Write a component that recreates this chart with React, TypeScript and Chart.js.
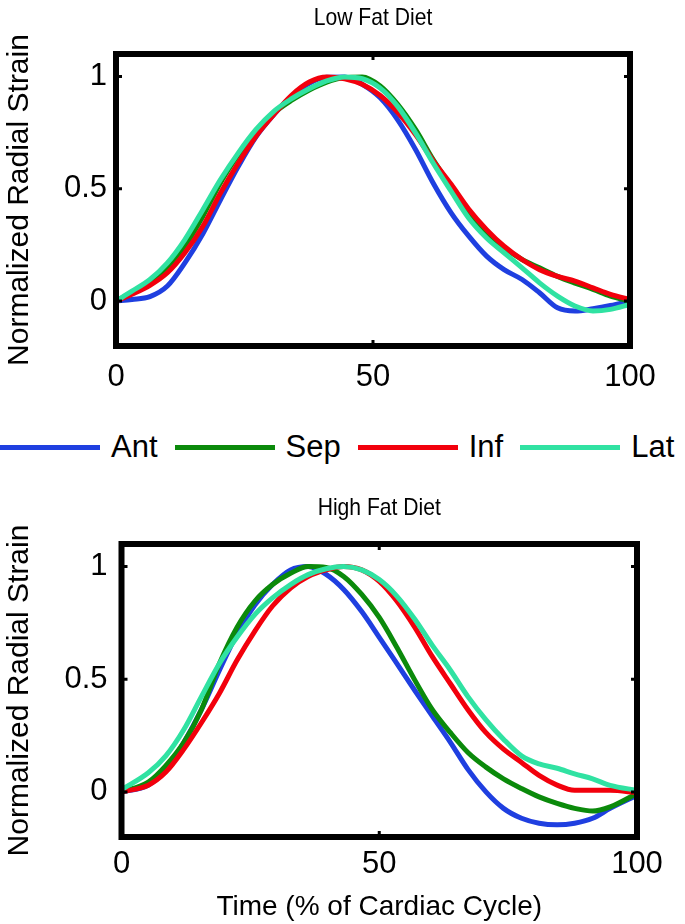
import React, { useEffect, useRef } from 'react';
import { Chart, registerables } from 'chart.js';

Chart.register(...registerables);

const FONT = '"Liberation Sans", Arial, Helvetica, sans-serif';

const seriesNames = ['Ant', 'Sep', 'Inf', 'Lat'];
const seriesColors = ['#1f3fe0', '#0b8a0b', '#f2000c', '#30e2a2'];
const seriesOrder = [3, 2, 1, 0];

const xTicks = [0, 50, 100];
const xTickLabels = ['0', '50', '100'];
const yTicks = [0, 0.5, 1];
const yTickLabels = ['0', '0.5', '1'];

const lowFatTitle = 'Low Fat Diet';
const highFatTitle = 'High Fat Diet';
const yAxisTitle = 'Normalized Radial Strain';
const xAxisTitle = 'Time (% of Cardiac Cycle)';

const lowFatTime = [0, 3.1, 6.6, 10, 13.4, 16.9, 20.3, 23.8, 27.2, 30.7, 34.1, 37.6, 41, 44.5, 47.9, 51.4, 54.8, 58.3, 61.7, 65.2, 68.6, 72.1, 75.5, 79, 82.4, 85.9, 89.3, 92.8, 96.2, 100];
const lowFatAnt = [0, 0.007, 0.02, 0.067, 0.17, 0.3, 0.45, 0.6, 0.73, 0.83, 0.91, 0.97, 0.997, 0.998, 0.965, 0.905, 0.807, 0.674, 0.526, 0.393, 0.29, 0.2, 0.14, 0.096, 0.037, -0.03, -0.044, -0.034, -0.02, 0];
const lowFatSep = [0, 0.037, 0.08, 0.148, 0.244, 0.378, 0.526, 0.652, 0.756, 0.837, 0.893, 0.94, 0.975, 0.995, 0.998, 0.958, 0.876, 0.763, 0.63, 0.51, 0.39, 0.3, 0.237, 0.185, 0.148, 0.11, 0.08, 0.052, 0.022, 0];
const lowFatInf = [0, 0.03, 0.07, 0.126, 0.215, 0.333, 0.48, 0.615, 0.733, 0.83, 0.915, 0.975, 0.998, 0.99, 0.965, 0.915, 0.84, 0.74, 0.625, 0.52, 0.41, 0.318, 0.244, 0.185, 0.14, 0.11, 0.089, 0.059, 0.03, 0.007];
const lowFatLat = [0, 0.044, 0.096, 0.17, 0.274, 0.407, 0.54, 0.66, 0.763, 0.845, 0.9, 0.945, 0.98, 0.998, 0.99, 0.948, 0.867, 0.748, 0.615, 0.489, 0.37, 0.281, 0.215, 0.148, 0.081, 0.022, -0.022, -0.044, -0.037, -0.015];

const highFatTime = [0, 5.2, 8.6, 12.1, 15.5, 19, 22.4, 25.9, 29.3, 32.8, 36.2, 39.7, 43.1, 46.6, 50, 53.4, 56.9, 60.3, 63.8, 67.2, 70.7, 74.1, 77.6, 81, 84.5, 87.9, 91.4, 94.8, 100];
const highFatAnt = [0, 0.03, 0.1, 0.22, 0.365, 0.54, 0.7, 0.83, 0.92, 0.985, 1.0, 0.965, 0.898, 0.8, 0.686, 0.57, 0.45, 0.336, 0.22, 0.1, 0.0, -0.073, -0.117, -0.139, -0.146, -0.139, -0.117, -0.073, -0.015];
const highFatSep = [0, 0.044, 0.117, 0.22, 0.365, 0.57, 0.73, 0.847, 0.92, 0.97, 1.0, 0.996, 0.956, 0.876, 0.774, 0.642, 0.496, 0.365, 0.263, 0.175, 0.11, 0.058, 0.015, -0.022, -0.051, -0.073, -0.085, -0.066, -0.007];
const highFatInf = [0, 0.03, 0.088, 0.19, 0.307, 0.438, 0.584, 0.715, 0.825, 0.905, 0.956, 0.985, 1.0, 0.985, 0.934, 0.847, 0.73, 0.6, 0.48, 0.365, 0.263, 0.19, 0.131, 0.073, 0.03, 0.007, 0.007, 0.007, -0.004];
const highFatLat = [0.01, 0.085, 0.16, 0.277, 0.423, 0.57, 0.686, 0.788, 0.861, 0.92, 0.964, 0.99, 1.0, 0.985, 0.942, 0.869, 0.766, 0.65, 0.54, 0.423, 0.32, 0.234, 0.16, 0.124, 0.105, 0.08, 0.058, 0.029, 0.007];

const TITLE_SIZE = 24;
const TITLE_STRETCH = 0.88;
const TICK_SIZE = 31;

const framePlugin = {
  id: 'frame',
  afterDatasetsDraw(chart: any) {
    const { ctx, chartArea, scales } = chart;
    const { left, right, top, bottom } = chartArea;
    ctx.save();
    ctx.strokeStyle = '#000';
    ctx.lineWidth = 6;
    ctx.lineJoin = 'miter';
    ctx.strokeRect(left, top, right - left, bottom - top);
    ctx.lineWidth = 3;
    ctx.beginPath();
    for (const v of xTicks) {
      const px = scales.x.getPixelForValue(v);
      if (px > left + 4 && px < right - 4) {
        ctx.moveTo(px, top); ctx.lineTo(px, top + 6);
        ctx.moveTo(px, bottom); ctx.lineTo(px, bottom - 6);
      }
    }
    for (const v of yTicks) {
      const py = scales.y.getPixelForValue(v);
      ctx.moveTo(left, py); ctx.lineTo(left + 6, py);
      ctx.moveTo(right, py); ctx.lineTo(right - 6, py);
    }
    ctx.stroke();
    ctx.restore();
  },
};

// Panel title drawn as real canvas text, slightly condensed like the original font
const panelTitlePlugin = {
  id: 'panelTitle',
  afterDraw(chart: any, _args: any, opts: any) {
    const { ctx, chartArea } = chart;
    const cx = (chartArea.left + chartArea.right) / 2;
    ctx.save();
    ctx.translate(cx, opts.y);
    ctx.scale(TITLE_STRETCH, 1);
    ctx.font = `${TITLE_SIZE}px ${FONT}`;
    ctx.fillStyle = '#000';
    ctx.textAlign = 'center';
    ctx.textBaseline = 'middle';
    ctx.fillText(opts.text, 0, 0);
    ctx.restore();
  },
};

type PanelProps = {
  title: string;
  time: number[];
  series: number[][];
  width: number;
  height: number;
  areaLeft: number;
  areaRight: number;
  areaTop: number;
  areaBottom: number;
  titleCenter: number;
  xTickPad: number;
  yTickPad: number;
  xTitle?: string;
};

function Panel(p: PanelProps) {
  const ref = useRef<HTMLCanvasElement | null>(null);
  useEffect(() => {
    if (!ref.current) return;
    Chart.defaults.font.family = FONT;
    Chart.defaults.color = '#000';
    const chart = new Chart(ref.current, {
      type: 'line',
      data: {
        datasets: p.series.map((vals, i) => ({
          label: seriesNames[i],
          data: vals.map((y, k) => ({ x: p.time[k], y })),
          borderColor: seriesColors[i],
          backgroundColor: seriesColors[i],
          borderWidth: 5,
          pointRadius: 0,
          fill: false,
          cubicInterpolationMode: 'monotone' as const,
          order: seriesOrder[i],
        })),
      },
      options: {
        responsive: false,
        animation: false,
        layout: { padding: { left: 0, right: p.width - p.areaRight, top: p.areaTop, bottom: 0 } },
        plugins: {
          legend: { display: false },
          tooltip: { enabled: false },
          title: { display: false },
          panelTitle: { text: p.title, y: p.titleCenter },
        },
        scales: {
          x: {
            type: 'linear',
            min: 0,
            max: 100,
            afterBuildTicks: (s: any) => { s.ticks = xTicks.map((v) => ({ value: v })); },
            afterFit: (s: any) => { s.height = p.height - p.areaBottom; },
            grid: { display: false, drawTicks: false },
            border: { display: false },
            ticks: {
              padding: p.xTickPad,
              color: '#000',
              font: { size: TICK_SIZE, family: FONT },
              maxRotation: 0,
              autoSkip: false,
              callback: (v: any) => { const i = xTicks.indexOf(Number(v)); return i >= 0 ? xTickLabels[i] : ''; },
            },
            title: {
              display: !!p.xTitle,
              text: p.xTitle || '',
              color: '#000',
              font: { size: 28, family: FONT },
              padding: { top: 0, bottom: 0 },
            },
          },
          y: {
            type: 'linear',
            min: -0.2,
            max: 1.1,
            afterBuildTicks: (s: any) => { s.ticks = yTicks.map((v) => ({ value: v })); },
            afterFit: (s: any) => { s.width = p.areaLeft; },
            grid: { display: false, drawTicks: false },
            border: { display: false },
            ticks: {
              padding: p.yTickPad,
              color: '#000',
              font: { size: TICK_SIZE, family: FONT },
              callback: (v: any) => { const i = yTicks.indexOf(Number(v)); return i >= 0 ? yTickLabels[i] : ''; },
            },
            title: {
              display: true,
              text: yAxisTitle,
              color: '#000',
              font: { size: 30, family: FONT },
              padding: { top: 2, bottom: 0 },
            },
          },
        },
      } as any,
      plugins: [framePlugin, panelTitlePlugin],
    });
    return () => chart.destroy();
  }, []);
  return (
    <canvas
      ref={ref}
      width={p.width}
      height={p.height}
      style={{ display: 'block', width: p.width, height: p.height }}
    />
  );
}

function Legend() {
  return (
    <div
      style={{
        position: 'absolute',
        left: 0,
        top: 430,
        width: 685,
        height: 34,
        display: 'flex',
        alignItems: 'center',
        fontFamily: FONT,
        fontSize: 31,
        color: '#000',
        whiteSpace: 'nowrap',
      }}
    >
      {seriesNames.map((name, i) => (
        <div key={name} style={{ display: 'flex', alignItems: 'center', marginRight: i < 3 ? 17 : 0 }}>
          <div style={{ width: 100, height: 5, background: seriesColors[i], marginRight: 11 }} />
          <span style={{ lineHeight: '34px' }}>{name}</span>
        </div>
      ))}
    </div>
  );
}

export default function App() {
  return (
    <div style={{ position: 'absolute', left: 0, top: 0, width: 685, height: 924, background: '#fff', overflow: 'hidden' }}>
      <div style={{ position: 'absolute', left: 0, top: 0 }}>
        <Panel
          title={lowFatTitle}
          time={lowFatTime}
          series={[lowFatAnt, lowFatSep, lowFatInf, lowFatLat]}
          width={685}
          height={400}
          areaLeft={116}
          areaRight={630}
          areaTop={54}
          areaBottom={346}
          titleCenter={18}
          xTickPad={13}
          yTickPad={9}
        />
      </div>
      <Legend />
      <div style={{ position: 'absolute', left: 0, top: 480 }}>
        <Panel
          title={highFatTitle}
          time={highFatTime}
          series={[highFatAnt, highFatSep, highFatInf, highFatLat]}
          width={685}
          height={444}
          areaLeft={121.5}
          areaRight={637}
          areaTop={64}
          areaBottom={357}
          titleCenter={28}
          xTickPad={9}
          yTickPad={14}
          xTitle={xAxisTitle}
        />
      </div>
    </div>
  );
}
